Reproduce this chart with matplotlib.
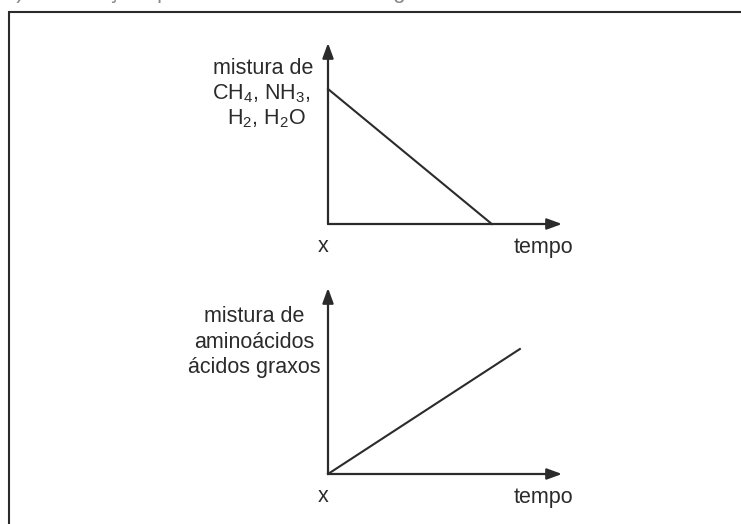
import numpy as np
import matplotlib
matplotlib.use("Agg")
import matplotlib.pyplot as plt

plt.rcParams['font.family'] = ['Liberation Sans', 'DejaVu Sans']
plt.rcParams['mathtext.fontset'] = 'custom'
plt.rcParams['mathtext.rm'] = 'Liberation Sans'
plt.rcParams['mathtext.default'] = 'regular'

# reagents fall to zero, products rise from zero (arbitrary units, 0..10)
t_reagentes = [0.0, 7.0]
reagentes = [7.46, 0.0]
t_produtos = [0.0, 8.2]
produtos = [0.0, 6.72]

label_reagentes = ["mistura de", "CH$_4$, NH$_3$,", "H$_2$, H$_2$O"]
label_produtos = ["mistura de", "aminoácidos", "ácidos graxos"]
xlabel = "tempo"
origem = "x"

ink = '#2b2b2b'
W, H = 741, 524

fig = plt.figure(figsize=(W / 100, H / 100), dpi=100)

# pixel-space backdrop for the frame and free text
bg = fig.add_axes([0, 0, 1, 1], zorder=0)
bg.set_xlim(0, W)
bg.set_ylim(H, 0)
bg.axis('off')
bg.plot([9, 9, W], [H, 12, 12], color=ink, lw=1.5, solid_joinstyle='miter')
# heading line running off the top edge
bg.text(4, -2, "b)  A evolução química é mostrada nos gráficos abaixo:",
        fontsize=16, color='#888888', va='baseline', ha='left')


def panel(rect, t, y):
    ax = fig.add_axes(rect, zorder=1)
    ax.set_xlim(0, 10)
    ax.set_ylim(0, 10)
    ax.axis('off')
    ax.plot(t, y, color=ink, lw=1.5, clip_on=False)
    head = dict(arrowstyle='-|>,head_length=0.9,head_width=0.33', lw=1.6,
                color=ink, shrinkA=0, shrinkB=0)
    ax.annotate('', xy=(1, 0), xytext=(0, 0), xycoords='axes fraction',
                arrowprops=head, annotation_clip=False)
    ax.annotate('', xy=(0, 1), xytext=(0, 0), xycoords='axes fraction',
                arrowprops=head, annotation_clip=False)
    return ax


panel([328 / W, 1 - 224 / H, 234 / W, 181 / H], t_reagentes, reagentes)
panel([328 / W, 1 - 474 / H, 234 / W, 186 / H], t_produtos, produtos)

fs = 15.5
for i, s in enumerate(label_reagentes):
    bg.text([263, 261, 266][i], [68, 94, 119][i], s, fontsize=fs, color=ink,
            ha='center', va='center')
for i, s in enumerate(label_produtos):
    bg.text(254, [317, 342, 367][i], s, fontsize=fs, color=ink,
            ha='center', va='center')

for yy in (247, 497):
    bg.text(323, yy, origem, fontsize=fs, color=ink, ha='center', va='center')
    bg.text(543, yy, xlabel, fontsize=fs, color=ink, ha='center', va='center')

fig.savefig('out.png', dpi=100, facecolor='white')
